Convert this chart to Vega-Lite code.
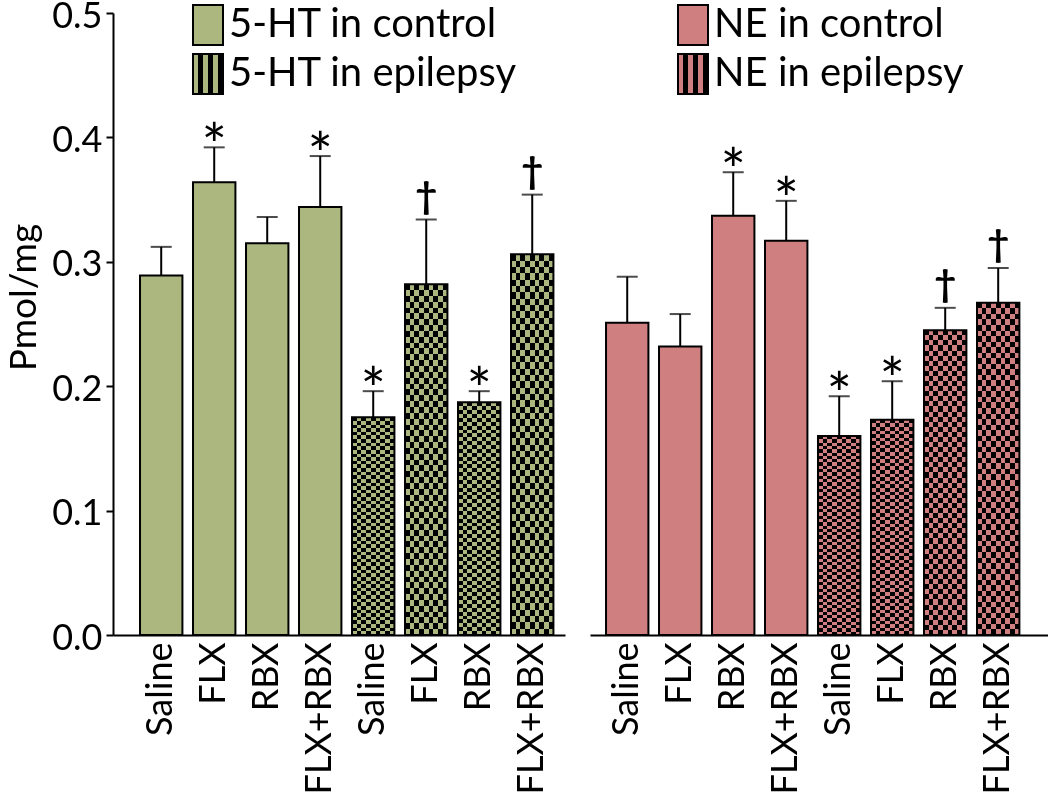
{
  "$schema": "https://vega.github.io/schema/vega-lite/v6.json",
  "padding": {"left": 5, "top": -2, "right": 0, "bottom": 0},
  "background": "white",
  "params": [
    {"name": "vstripe", "value": {"gradient": "linear", "x1": 0, "y1": 0, "x2": 1, "y2": 0, "stops": [
      {"offset": 0, "color": "#000"}, {"offset": 0.1111, "color": "#000"},
      {"offset": 0.1111, "color": "#fff"}, {"offset": 0.2222, "color": "#fff"},
      {"offset": 0.2222, "color": "#000"}, {"offset": 0.3333, "color": "#000"},
      {"offset": 0.3333, "color": "#fff"}, {"offset": 0.4444, "color": "#fff"},
      {"offset": 0.4444, "color": "#000"}, {"offset": 0.5556, "color": "#000"},
      {"offset": 0.5556, "color": "#fff"}, {"offset": 0.6667, "color": "#fff"},
      {"offset": 0.6667, "color": "#000"}, {"offset": 0.7778, "color": "#000"},
      {"offset": 0.7778, "color": "#fff"}, {"offset": 0.8889, "color": "#fff"},
      {"offset": 0.8889, "color": "#000"}, {"offset": 1, "color": "#000"}
    ]}},
    {"name": "hstripe", "value": {"gradient": "linear", "x1": 0, "y1": 0, "x2": 0, "y2": 1, "stops": [
      {"offset": 0, "color": "#000"}, {"offset": 0.0167, "color": "#000"},
      {"offset": 0.0167, "color": "#fff"}, {"offset": 0.0333, "color": "#fff"},
      {"offset": 0.0333, "color": "#000"}, {"offset": 0.05, "color": "#000"},
      {"offset": 0.05, "color": "#fff"}, {"offset": 0.0667, "color": "#fff"},
      {"offset": 0.0667, "color": "#000"}, {"offset": 0.0833, "color": "#000"},
      {"offset": 0.0833, "color": "#fff"}, {"offset": 0.1, "color": "#fff"},
      {"offset": 0.1, "color": "#000"}, {"offset": 0.1167, "color": "#000"},
      {"offset": 0.1167, "color": "#fff"}, {"offset": 0.1333, "color": "#fff"},
      {"offset": 0.1333, "color": "#000"}, {"offset": 0.15, "color": "#000"},
      {"offset": 0.15, "color": "#fff"}, {"offset": 0.1667, "color": "#fff"},
      {"offset": 0.1667, "color": "#000"}, {"offset": 0.1833, "color": "#000"},
      {"offset": 0.1833, "color": "#fff"}, {"offset": 0.2, "color": "#fff"},
      {"offset": 0.2, "color": "#000"}, {"offset": 0.2167, "color": "#000"},
      {"offset": 0.2167, "color": "#fff"}, {"offset": 0.2333, "color": "#fff"},
      {"offset": 0.2333, "color": "#000"}, {"offset": 0.25, "color": "#000"},
      {"offset": 0.25, "color": "#fff"}, {"offset": 0.2667, "color": "#fff"},
      {"offset": 0.2667, "color": "#000"}, {"offset": 0.2833, "color": "#000"},
      {"offset": 0.2833, "color": "#fff"}, {"offset": 0.3, "color": "#fff"},
      {"offset": 0.3, "color": "#000"}, {"offset": 0.3167, "color": "#000"},
      {"offset": 0.3167, "color": "#fff"}, {"offset": 0.3333, "color": "#fff"},
      {"offset": 0.3333, "color": "#000"}, {"offset": 0.35, "color": "#000"},
      {"offset": 0.35, "color": "#fff"}, {"offset": 0.3667, "color": "#fff"},
      {"offset": 0.3667, "color": "#000"}, {"offset": 0.3833, "color": "#000"},
      {"offset": 0.3833, "color": "#fff"}, {"offset": 0.4, "color": "#fff"},
      {"offset": 0.4, "color": "#000"}, {"offset": 0.4167, "color": "#000"},
      {"offset": 0.4167, "color": "#fff"}, {"offset": 0.4333, "color": "#fff"},
      {"offset": 0.4333, "color": "#000"}, {"offset": 0.45, "color": "#000"},
      {"offset": 0.45, "color": "#fff"}, {"offset": 0.4667, "color": "#fff"},
      {"offset": 0.4667, "color": "#000"}, {"offset": 0.4833, "color": "#000"},
      {"offset": 0.4833, "color": "#fff"}, {"offset": 0.5, "color": "#fff"},
      {"offset": 0.5, "color": "#000"}, {"offset": 0.5167, "color": "#000"},
      {"offset": 0.5167, "color": "#fff"}, {"offset": 0.5333, "color": "#fff"},
      {"offset": 0.5333, "color": "#000"}, {"offset": 0.55, "color": "#000"},
      {"offset": 0.55, "color": "#fff"}, {"offset": 0.5667, "color": "#fff"},
      {"offset": 0.5667, "color": "#000"}, {"offset": 0.5833, "color": "#000"},
      {"offset": 0.5833, "color": "#fff"}, {"offset": 0.6, "color": "#fff"},
      {"offset": 0.6, "color": "#000"}, {"offset": 0.6167, "color": "#000"},
      {"offset": 0.6167, "color": "#fff"}, {"offset": 0.6333, "color": "#fff"},
      {"offset": 0.6333, "color": "#000"}, {"offset": 0.65, "color": "#000"},
      {"offset": 0.65, "color": "#fff"}, {"offset": 0.6667, "color": "#fff"},
      {"offset": 0.6667, "color": "#000"}, {"offset": 0.6833, "color": "#000"},
      {"offset": 0.6833, "color": "#fff"}, {"offset": 0.7, "color": "#fff"},
      {"offset": 0.7, "color": "#000"}, {"offset": 0.7167, "color": "#000"},
      {"offset": 0.7167, "color": "#fff"}, {"offset": 0.7333, "color": "#fff"},
      {"offset": 0.7333, "color": "#000"}, {"offset": 0.75, "color": "#000"},
      {"offset": 0.75, "color": "#fff"}, {"offset": 0.7667, "color": "#fff"},
      {"offset": 0.7667, "color": "#000"}, {"offset": 0.7833, "color": "#000"},
      {"offset": 0.7833, "color": "#fff"}, {"offset": 0.8, "color": "#fff"},
      {"offset": 0.8, "color": "#000"}, {"offset": 0.8167, "color": "#000"},
      {"offset": 0.8167, "color": "#fff"}, {"offset": 0.8333, "color": "#fff"},
      {"offset": 0.8333, "color": "#000"}, {"offset": 0.85, "color": "#000"},
      {"offset": 0.85, "color": "#fff"}, {"offset": 0.8667, "color": "#fff"},
      {"offset": 0.8667, "color": "#000"}, {"offset": 0.8833, "color": "#000"},
      {"offset": 0.8833, "color": "#fff"}, {"offset": 0.9, "color": "#fff"},
      {"offset": 0.9, "color": "#000"}, {"offset": 0.9167, "color": "#000"},
      {"offset": 0.9167, "color": "#fff"}, {"offset": 0.9333, "color": "#fff"},
      {"offset": 0.9333, "color": "#000"}, {"offset": 0.95, "color": "#000"},
      {"offset": 0.95, "color": "#fff"}, {"offset": 0.9667, "color": "#fff"},
      {"offset": 0.9667, "color": "#000"}, {"offset": 0.9833, "color": "#000"},
      {"offset": 0.9833, "color": "#fff"}, {"offset": 1, "color": "#fff"}
    ]}},
    {"name": "lstripeG", "value": {"gradient": "linear", "x1": 0, "y1": 0, "x2": 1, "y2": 0, "stops": [
      {"offset": 0, "color": "#acb77f"}, {"offset": 0.1667, "color": "#acb77f"},
      {"offset": 0.1667, "color": "#000"}, {"offset": 0.3333, "color": "#000"},
      {"offset": 0.3333, "color": "#acb77f"}, {"offset": 0.5, "color": "#acb77f"},
      {"offset": 0.5, "color": "#000"}, {"offset": 0.6667, "color": "#000"},
      {"offset": 0.6667, "color": "#acb77f"}, {"offset": 0.8333, "color": "#acb77f"},
      {"offset": 0.8333, "color": "#000"}, {"offset": 1, "color": "#000"}
    ]}},
    {"name": "lstripeP", "value": {"gradient": "linear", "x1": 0, "y1": 0, "x2": 1, "y2": 0, "stops": [
      {"offset": 0, "color": "#cf7f80"}, {"offset": 0.1667, "color": "#cf7f80"},
      {"offset": 0.1667, "color": "#000"}, {"offset": 0.3333, "color": "#000"},
      {"offset": 0.3333, "color": "#cf7f80"}, {"offset": 0.5, "color": "#cf7f80"},
      {"offset": 0.5, "color": "#000"}, {"offset": 0.6667, "color": "#000"},
      {"offset": 0.6667, "color": "#cf7f80"}, {"offset": 0.8333, "color": "#cf7f80"},
      {"offset": 0.8333, "color": "#000"}, {"offset": 1, "color": "#000"}
    ]}}
  ],
  "data": {"values": [
    {"panel": "5-HT", "cond": "control", "series": "5-HT in control", "key": "Saline|c", "value": 0.289, "err": 0.312, "sig": ""},
    {"panel": "5-HT", "cond": "control", "series": "5-HT in control", "key": "FLX|c", "value": 0.364, "err": 0.392, "sig": "*"},
    {"panel": "5-HT", "cond": "control", "series": "5-HT in control", "key": "RBX|c", "value": 0.315, "err": 0.336, "sig": ""},
    {"panel": "5-HT", "cond": "control", "series": "5-HT in control", "key": "FLX+RBX|c", "value": 0.344, "err": 0.385, "sig": "*"},
    {"panel": "5-HT", "cond": "epilepsy", "series": "5-HT in epilepsy", "key": "Saline|e", "value": 0.175, "err": 0.196, "sig": "*"},
    {"panel": "5-HT", "cond": "epilepsy", "series": "5-HT in epilepsy", "key": "FLX|e", "value": 0.282, "err": 0.334, "sig": "†"},
    {"panel": "5-HT", "cond": "epilepsy", "series": "5-HT in epilepsy", "key": "RBX|e", "value": 0.187, "err": 0.196, "sig": "*"},
    {"panel": "5-HT", "cond": "epilepsy", "series": "5-HT in epilepsy", "key": "FLX+RBX|e", "value": 0.306, "err": 0.354, "sig": "†"},
    {"panel": "NE", "cond": "control", "series": "NE in control", "key": "Saline|c", "value": 0.251, "err": 0.288, "sig": ""},
    {"panel": "NE", "cond": "control", "series": "NE in control", "key": "FLX|c", "value": 0.232, "err": 0.258, "sig": ""},
    {"panel": "NE", "cond": "control", "series": "NE in control", "key": "RBX|c", "value": 0.337, "err": 0.372, "sig": "*"},
    {"panel": "NE", "cond": "control", "series": "NE in control", "key": "FLX+RBX|c", "value": 0.317, "err": 0.349, "sig": "*"},
    {"panel": "NE", "cond": "epilepsy", "series": "NE in epilepsy", "key": "Saline|e", "value": 0.160, "err": 0.192, "sig": "*"},
    {"panel": "NE", "cond": "epilepsy", "series": "NE in epilepsy", "key": "FLX|e", "value": 0.173, "err": 0.204, "sig": "*"},
    {"panel": "NE", "cond": "epilepsy", "series": "NE in epilepsy", "key": "RBX|e", "value": 0.245, "err": 0.263, "sig": "†"},
    {"panel": "NE", "cond": "epilepsy", "series": "NE in epilepsy", "key": "FLX+RBX|e", "value": 0.267, "err": 0.295, "sig": "†"}
  ]},
  "spacing": 25,
  "resolve": {"scale": {"color": "independent", "x": "independent", "y": "independent"}},
  "hconcat": [
    {
      "width": 452, "height": 622,
      "transform": [{"filter": "datum.panel == '5-HT'"}],
      "encoding": {
        "x": {"field": "key", "type": "nominal", "sort": null, "title": null,
          "scale": {"paddingInner": 0.2, "paddingOuter": 0.364, "align": 0.7, "round": false},
          "axis": {"labelExpr": "split(datum.value, '|')[0]"}},
        "y": {"field": "value", "type": "quantitative", "scale": {"domain": [0, 0.5], "nice": false},
          "axis": {"values": [0, 0.1, 0.2, 0.3, 0.4, 0.5], "format": ".1f", "tickSize": 7, "labelPadding": 4, "labelFontSize": 36, "labelOffset": 3,
            "title": "Pmol/mg", "titleFontSize": 37, "titleFontWeight": "normal", "titlePadding": 8, "titleY": 284}}
      },
      "layer": [
        {"mark": {"type": "bar"},
         "encoding": {"color": {"field": "series", "type": "nominal",
           "scale": {"domain": ["5-HT in control", "5-HT in epilepsy"], "range": ["#acb77f", {"expr": "lstripeG"}]},
           "legend": {"orient": "none", "legendX": 74, "legendY": -9, "title": null}}}},
        {"transform": [{"filter": "datum.cond == 'epilepsy'"}], "mark": {"type": "bar", "fill": {"expr": "vstripe"}}},
        {"transform": [{"filter": "datum.cond == 'epilepsy'"}], "mark": {"type": "bar", "fill": {"expr": "hstripe"}, "blend": "difference"}},
        {"transform": [{"filter": "datum.cond == 'epilepsy'"}], "mark": {"type": "bar", "fill": "#acb77f", "blend": "multiply"}},
        {"mark": {"type": "bar", "filled": false, "stroke": "black", "strokeWidth": 2}},
        {"mark": {"type": "rule", "color": "black", "strokeWidth": 2}, "encoding": {"y2": {"field": "err"}}},
        {"mark": {"type": "tick", "color": "black", "size": 21, "thickness": 2}, "encoding": {"y": {"field": "err", "type": "quantitative"}}},
        {"transform": [{"filter": "datum.sig == '*'"}], "mark": {"type": "text", "fontSize": 60, "font": "Lato", "baseline": "alphabetic", "dy": 20, "color": "black"},
         "encoding": {"y": {"field": "err", "type": "quantitative"}, "text": {"field": "sig"}}},
        {"transform": [{"filter": "datum.sig == '†'"}], "mark": {"type": "text", "fontSize": 38, "font": "Lato", "fontWeight": "bold", "baseline": "alphabetic", "dy": -11, "color": "black"},
         "encoding": {"y": {"field": "err", "type": "quantitative"}, "text": {"field": "sig"}}}
      ]
    },
    {
      "width": 458, "height": 622,
      "transform": [{"filter": "datum.panel == 'NE'"}],
      "encoding": {
        "x": {"field": "key", "type": "nominal", "sort": null, "title": null,
          "scale": {"paddingInner": 0.2, "paddingOuter": 0.421, "align": 0.359, "round": false},
          "axis": {"labelExpr": "split(datum.value, '|')[0]"}},
        "y": {"field": "value", "type": "quantitative", "scale": {"domain": [0, 0.5], "nice": false}, "axis": null}
      },
      "layer": [
        {"mark": {"type": "bar"},
         "encoding": {"color": {"field": "series", "type": "nominal",
           "scale": {"domain": ["NE in control", "NE in epilepsy"], "range": ["#cf7f80", {"expr": "lstripeP"}]},
           "legend": {"orient": "none", "legendX": 82, "legendY": -9, "title": null}}}},
        {"transform": [{"filter": "datum.cond == 'epilepsy'"}], "mark": {"type": "bar", "fill": {"expr": "vstripe"}}},
        {"transform": [{"filter": "datum.cond == 'epilepsy'"}], "mark": {"type": "bar", "fill": {"expr": "hstripe"}, "blend": "difference"}},
        {"transform": [{"filter": "datum.cond == 'epilepsy'"}], "mark": {"type": "bar", "fill": "#cf7f80", "blend": "multiply"}},
        {"mark": {"type": "bar", "filled": false, "stroke": "black", "strokeWidth": 2}},
        {"mark": {"type": "rule", "color": "black", "strokeWidth": 2}, "encoding": {"y2": {"field": "err"}}},
        {"mark": {"type": "tick", "color": "black", "size": 21, "thickness": 2}, "encoding": {"y": {"field": "err", "type": "quantitative"}}},
        {"transform": [{"filter": "datum.sig == '*'"}], "mark": {"type": "text", "fontSize": 60, "font": "Lato", "baseline": "alphabetic", "dy": 20, "color": "black"},
         "encoding": {"y": {"field": "err", "type": "quantitative"}, "text": {"field": "sig"}}},
        {"transform": [{"filter": "datum.sig == '†'"}], "mark": {"type": "text", "fontSize": 38, "font": "Lato", "fontWeight": "bold", "baseline": "alphabetic", "dy": -11, "color": "black"},
         "encoding": {"y": {"field": "err", "type": "quantitative"}, "text": {"field": "sig"}}}
      ]
    }
  ],
  "config": {
    "font": "Lato",
    "view": {"stroke": null},
    "axis": {"labelFont": "Lato", "titleFont": "Lato", "labelColor": "black", "titleColor": "black", "domainColor": "black", "tickColor": "black",
      "domainWidth": 2, "tickWidth": 2, "grid": false},
    "axisX": {"labelAngle": -90, "labelAlign": "right", "labelBaseline": "middle", "ticks": false, "labelPadding": 7, "labelFontSize": 36, "labelLimit": 400},
    "legend": {"symbolType": "M-0.75,-1H0.75V1H-0.75Z", "symbolSize": 1600, "labelFont": "Lato", "labelFontSize": 40, "labelColor": "black",
      "labelOffset": 0, "rowPadding": 1, "labelLimit": 500, "symbolStrokeColor": "black", "symbolStrokeWidth": 2, "padding": 0}
  }
}
